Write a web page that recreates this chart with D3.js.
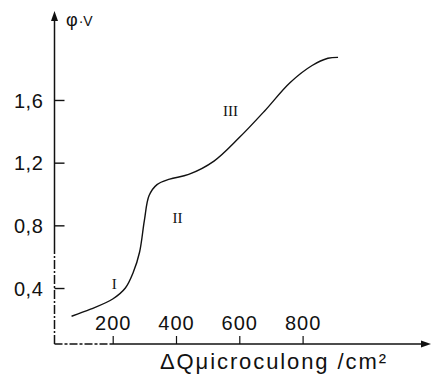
<!DOCTYPE html>
<html><head><meta charset="utf-8">
<script src="https://cdn.jsdelivr.net/npm/d3@7"></script>
<style>
html,body{margin:0;padding:0;background:#fff;}
svg{display:block;}
text{font-family:"Liberation Sans",Arial,sans-serif;fill:#111;}
</style></head>
<body>
<svg id="chart" width="431" height="374"></svg>
<script>
const qValues = [70, 130, 200, 240, 265, 285, 300, 315, 340, 380, 440, 520, 600, 680, 760, 830, 880, 912];
const phiValues = [0.22, 0.265, 0.33, 0.40, 0.50, 0.63, 0.83, 0.99, 1.06, 1.095, 1.125, 1.21, 1.36, 1.53, 1.71, 1.82, 1.866, 1.872];
const xTicks = [200, 400, 600, 800];
const yTicks = [0.4, 0.8, 1.2, 1.6];
const yTickLabels = ["0,4", "0,8", "1,2", "1,6"];
const regionLabels = [
  {text: "I", q: 205, phi: 0.43},
  {text: "II", q: 405, phi: 0.85},
  {text: "III", q: 572, phi: 1.53}
];
const yAxisSymbol = "φ";
const yAxisUnit = "·V";
const xAxisLabel = "ΔQμicroculong /cm²";

const svg = d3.select("#chart");
const x = d3.scaleLinear().domain([0, 1000]).range([49.4, 365.9]);
const y = d3.scaleLinear().domain([0, 2]).range([350.7, 37.3]);

const axisX = 54.5, axisY = 344;

// axis lines (scanned original shows a broken lower-left stretch)
svg.append("line").attr("x1", axisX).attr("x2", axisX).attr("y1", 250).attr("y2", 18)
  .attr("stroke", "#111").attr("stroke-width", 1.5);
svg.append("line").attr("x1", axisX).attr("x2", axisX).attr("y1", axisY).attr("y2", 250)
  .attr("stroke", "#111").attr("stroke-width", 1.5).attr("stroke-dasharray", "9,2,2,2");
svg.append("line").attr("x1", axisX).attr("x2", 112).attr("y1", axisY).attr("y2", axisY)
  .attr("stroke", "#111").attr("stroke-width", 1.5).attr("stroke-dasharray", "8,2,3,2");
svg.append("line").attr("x1", 112).attr("x2", 424).attr("y1", axisY).attr("y2", axisY)
  .attr("stroke", "#111").attr("stroke-width", 1.5);
// arrowheads
svg.append("path").attr("d", `M${axisX},11 L${axisX-3.5},21 L${axisX+3.5},21 Z`).attr("fill", "#111");
svg.append("path").attr("d", `M431,${axisY} L421,${axisY-3.5} L421,${axisY+3.5} Z`).attr("fill", "#111");

// y axis ticks
const gy = svg.append("g").attr("transform", `translate(${axisX},0)`)
  .call(d3.axisLeft(y).tickValues(yTicks).tickFormat((d,i)=>yTickLabels[i]).tickSizeInner(-10).tickSizeOuter(0).tickPadding(11));
gy.select(".domain").remove();
gy.selectAll(".tick line").attr("stroke", "#111").attr("stroke-width", 1.4);
gy.selectAll(".tick text").style("font-size", "20px").attr("fill", "#111").attr("dy", "0.36em").attr("letter-spacing", "0.6px");

// x axis ticks
const gx = svg.append("g").attr("transform", `translate(0,${axisY})`)
  .call(d3.axisTop(x).tickValues(xTicks).tickFormat(d3.format("d")).tickSizeInner(8).tickSizeOuter(0).tickPadding(6));
gx.select(".domain").remove();
gx.selectAll(".tick line").attr("stroke", "#111").attr("stroke-width", 1.2);
gx.selectAll(".tick text").style("font-size", "20px").attr("fill", "#111").attr("letter-spacing", "1px");

// curve
const pts = qValues.map((q,i)=>[q, phiValues[i]]);
const line = d3.line().x(d=>x(d[0])).y(d=>y(d[1])).curve(d3.curveCatmullRom.alpha(0.5));
svg.append("path").datum(pts).attr("d", line).attr("fill", "none")
  .attr("stroke", "#111").attr("stroke-width", 1.4);

// region labels
svg.selectAll(".rl").data(regionLabels).enter().append("text")
  .attr("class", "rl")
  .attr("x", d=>x(d.q)).attr("y", d=>y(d.phi))
  .attr("text-anchor", "middle").attr("dy", "0.36em")
  .style("font-family", "'Liberation Serif',serif").style("font-size", "15px")
  .text(d=>d.text);

// axis labels
const yl = svg.append("text").attr("x", 66).attr("y", 26);
yl.append("tspan").style("font-size", "18px").text(yAxisSymbol);
yl.append("tspan").style("font-size", "14px").attr("dx", "1").text(yAxisUnit);
svg.append("text").attr("x", 160).attr("y", 369).style("font-size", "22px")
  .attr("textLength", 226).attr("lengthAdjust", "spacing").text(xAxisLabel);
</script>
</body></html>
